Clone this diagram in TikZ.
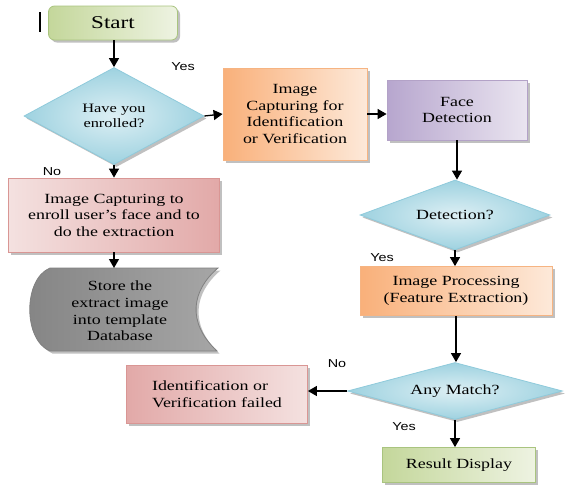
\documentclass[tikz,border=0pt]{standalone}
\usepackage{fontspec}
\setmainfont{Liberation Serif}[FakeStretch=1.28]
\newfontfamily\lblfont{Liberation Sans}[FakeStretch=1.25]
\usetikzlibrary{shapes.geometric,arrows.meta,shadows}
\definecolor{grnB}{HTML}{A9C47F}
\definecolor{grn1}{HTML}{C4D79B}
\definecolor{grn2}{HTML}{EEF3E2}
\definecolor{bluB}{HTML}{8FCADB}
\definecolor{blu1}{HTML}{9ED2E0}
\definecolor{blu2}{HTML}{DDEFF4}
\definecolor{orB}{HTML}{F6B482}
\definecolor{or1}{HTML}{F9B07A}
\definecolor{or2}{HTML}{FDE9D9}
\definecolor{puB}{HTML}{B3A2C7}
\definecolor{pu1}{HTML}{B7A6CE}
\definecolor{pu2}{HTML}{EAE5F0}
\definecolor{redB}{HTML}{D99694}
\definecolor{red1}{HTML}{E2A9A8}
\definecolor{red2}{HTML}{F4E1E0}
\begin{document}
\begin{tikzpicture}[x=1pt,y=-1pt,
  shad/.style={drop shadow={shadow xshift=2.5pt,shadow yshift=-2.5pt,fill=black!45,opacity=.55}},
  base/.style={shad,line width=0.8pt,inner sep=1pt,align=center,
    font=\fontsize{14}{16.5}\selectfont},
  gbox/.style={base,draw=grnB,left color=grn1,right color=grn2},
  obox/.style={base,draw=orB,left color=or1,right color=or2},
  pbox/.style={base,draw=puB,left color=pu1,right color=pu2},
  rbox/.style={base,draw=redB,left color=red2,right color=red1},
  dia/.style={base,diamond,aspect=2,draw=bluB,inner color=blu2,outer color=blu1,inner sep=0pt},
  arr/.style={line width=1.3pt,-{Triangle[width=10pt,length=9pt]}},
  lbl/.style={font=\lblfont\fontsize{11.5}{13}\selectfont,inner sep=0pt}]
\useasboundingbox (0,0) rectangle (565,488);
% cursor mark
\draw[line width=1.8pt] (40,12) -- (40,32);
% nodes
\node[gbox,rounded corners=6pt,minimum width=129pt,minimum height=34pt,
  font=\fontsize{18}{20}\selectfont] (start) at (113,23) {Start};
\node[dia,minimum width=180pt,minimum height=97pt,
  font=\fontsize{12.8}{15}\selectfont] (enr) at (114,116) {Have you\\enrolled?};
\node[obox,minimum width=144pt,minimum height=92pt] (cap) at (295,114)
  {Image\\Capturing for\\Identification\\or Verification};
\node[pbox,minimum width=140pt,minimum height=60pt] (face) at (457,110) {Face\\Detection};
\node[rbox,minimum width=211pt,minimum height=74pt] (enrl) at (114,215)
  {Image Capturing to\\enroll user's face and to\\do the extraction};
% stored data shape
\fill[black!45,opacity=.55,shift={(2.5,2.5)}] (50,268) -- (218,268)
  .. controls (192,290) and (186,322) .. (217,351) -- (50,351)
  .. controls (23,340) and (23,279) .. (50,268) -- cycle;
\path[draw=black!50,line width=0.8pt,left color=black!48,middle color=black!4,right color=black!35]
  (50,268) -- (218,268)
  .. controls (192,290) and (186,322) .. (217,351) -- (50,351)
  .. controls (23,340) and (23,279) .. (50,268) -- cycle;
\coordinate (storetop) at (114,268);
\node[align=center,font=\fontsize{14}{16.8}\selectfont] (store) at (120,311)
  {Store the\\extract image\\into template\\Database};
\node[dia,aspect=2.7,minimum width=190pt,minimum height=70pt] (det) at (455,215) {Detection?};
\node[obox,minimum width=192pt,minimum height=49pt] (proc) at (456,291)
  {Image Processing\\(Feature Extraction)};
\node[dia,aspect=3.5,minimum width=215pt,minimum height=57pt] (match) at (455,391) {Any Match?};
\node[rbox,left color=red1,right color=red2,align=left,minimum width=181pt,minimum height=58pt] (fail) at (217,394)
  {Identification or\\Verification failed};
\node[gbox,minimum width=153pt,minimum height=35pt] (res) at (459,465) {Result Display};
% labels
\node[lbl] (ly1) at (183,67) {Yes};
\node[lbl] (ln1) at (52,172) {No};
\node[lbl] (ly2) at (382,258) {Yes};
\node[lbl] (ln2) at (337,364) {No};
\node[lbl] (ly3) at (404,427) {Yes};
% arrows
\draw[arr] (start.south -| enr.north) -- (enr.north);
\draw[arr] (enr.east) -- (cap.west);
\draw[arr] (cap.east) -- (cap.east -| face.west);
\draw[arr] (face.south) -- (face.south |- det.north);
\draw[arr] (det.south) -- (det.south |- proc.north);
\draw[arr] (proc.south) -- (proc.south |- match.north);
\draw[arr] (match.west) -- (match.west -| fail.east);
\draw[arr] (match.south) -- (match.south |- res.north);
\draw[arr] (enr.south) -- (enr.south |- enrl.north);
\draw[arr] (enrl.south) -- (storetop);
\end{tikzpicture}
\end{document}
